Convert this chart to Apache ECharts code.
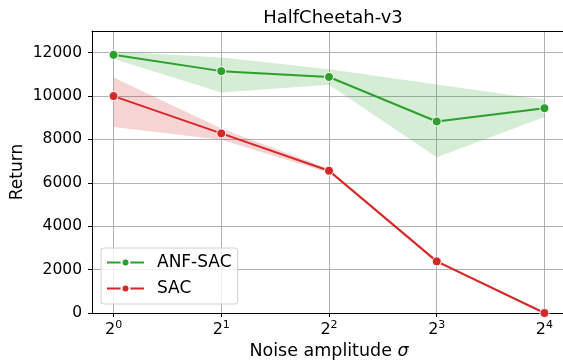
<!DOCTYPE html>
<html>
<head>
<meta charset="utf-8">
<script src="https://cdn.jsdelivr.net/npm/echarts@6/dist/echarts.min.js"></script>
<style>
  html, body { margin: 0; padding: 0; background: #fff; }
  #main { width: 563px; height: 362px; }
</style>
</head>
<body>
<div id="main"></div>
<script>
// x positions as log2 of the noise amplitude
var exps = [0, 1, 2, 3, 4];

var anfMean = [11900, 11150, 10880, 8830, 9440];
var anfLow = [11720, 10160, 10520, 7180, 9030];
var anfHigh = [12060, 11780, 11240, 10530, 9830];

var sacMean = [10000, 8280, 6560, 2380, 0];
var sacLow = [8580, 7990, 6460, 2320, -40];
var sacHigh = [10860, 8500, 6650, 2450, 40];

var yTicks = [0, 2000, 4000, 6000, 8000, 10000, 12000];

var green = '#2ca02c';
var red = '#d62728';

function pairs(ys) {
    var out = [];
    for (var i = 0; i < exps.length; i++) {
        out.push([exps[i], ys[i]]);
    }
    return out;
}

// band drawn as one polygon through the axis scales
function bandSeries(low, high, fill) {
    return {
        type: 'custom',
        silent: true,
        z: 1,
        data: [[0, 0]],
        renderItem: function (params, api) {
            var pts = [];
            for (var i = 0; i < exps.length; i++) {
                pts.push(api.coord([exps[i], high[i]]));
            }
            for (var j = exps.length - 1; j >= 0; j--) {
                pts.push(api.coord([exps[j], low[j]]));
            }
            return {
                type: 'polygon',
                shape: { points: pts },
                style: { fill: fill }
            };
        }
    };
}

var chart = echarts.init(document.getElementById('main'));
var font = 'DejaVu Sans';

var option = {
    animation: false,
    backgroundColor: '#fff',
    title: {
        text: 'HalfCheetah-v3',
        left: 328,
        top: 4,
        textAlign: 'center',
        textStyle: { fontFamily: font, fontSize: 18, fontWeight: 'normal', color: '#000' }
    },
    grid: { left: 92, top: 31, width: 474, height: 282, outerBoundsMode: 'none', containLabel: false },
    legend: {
        data: ['ANF-SAC', 'SAC'],
        orient: 'vertical',
        left: 101,
        top: 248,
        itemWidth: 37,
        itemHeight: 10,
        itemGap: 9,
        padding: [6, 6, 7, 5],
        borderColor: '#d0d0d0',
        borderWidth: 1,
        borderRadius: 3,
        backgroundColor: 'rgba(255,255,255,0.8)',
        textStyle: { fontFamily: font, fontSize: 17, lineHeight: 17, color: '#000', padding: [0, 0, 0, 8] }
    },
    xAxis: [{
        type: 'value',
        min: -0.2,
        max: 4.2,
        name: 'Noise amplitude {i|σ}',
        nameLocation: 'middle',
        nameGap: 28,
        nameTextStyle: {
            fontFamily: font, fontSize: 17.5, color: '#000',
            rich: { i: { fontFamily: font, fontSize: 17.5, fontStyle: 'italic', color: '#000' } }
        },
        axisLine: { onZero: false, lineStyle: { color: '#000', width: 1 } },
        axisTick: { show: true, length: 4, customValues: exps, lineStyle: { color: '#000' } },
        axisLabel: {
            margin: 7,
            customValues: exps,
            formatter: function (v) {
                return '{b|2}{s|' + Math.round(v) + '}';
            },
            rich: {
                b: { fontFamily: font, fontSize: 16, color: '#000' },
                s: { fontFamily: font, fontSize: 11, color: '#000', padding: [0, 0, 9, 0] }
            }
        },
        splitLine: { show: true, lineStyle: { color: '#b0b0b0', width: 1 } }
    }, {
        // top spine only
        type: 'value',
        position: 'top',
        min: -0.2,
        max: 4.2,
        axisLine: { show: true, onZero: false, lineStyle: { color: '#000', width: 1 } },
        axisTick: { show: false },
        axisLabel: { show: false },
        splitLine: { show: false }
    }],
    yAxis: {
        type: 'value',
        min: 0,
        max: 13000,
        name: 'Return',
        nameLocation: 'middle',
        nameGap: 66,
        nameMoveOverlap: false,
        nameTextStyle: { fontFamily: font, fontSize: 17, color: '#000' },
        axisLine: { show: true, onZero: false, lineStyle: { color: '#000', width: 1 } },
        axisTick: { show: true, length: 4, customValues: yTicks, lineStyle: { color: '#000' } },
        axisLabel: {
            margin: 10,
            customValues: yTicks,
            fontFamily: font, fontSize: 15.5, color: '#000',
            formatter: function (v) { return String(v); }
        },
        splitLine: { show: true, lineStyle: { color: '#b0b0b0', width: 1 } }
    },
    series: [
        bandSeries(anfLow, anfHigh, 'rgba(44,160,44,0.2)'),
        bandSeries(sacLow, sacHigh, 'rgba(214,39,40,0.2)'),
        {
            name: 'ANF-SAC',
            type: 'line',
            data: pairs(anfMean),
            color: green,
            symbol: 'circle',
            symbolSize: 9,
            lineStyle: { width: 2 },
            itemStyle: { color: green, borderColor: '#fff', borderWidth: 1 },
            z: 3
        },
        {
            name: 'SAC',
            type: 'line',
            data: pairs(sacMean),
            color: red,
            symbol: 'circle',
            symbolSize: 9,
            lineStyle: { width: 2 },
            itemStyle: { color: red, borderColor: '#fff', borderWidth: 1 },
            z: 3
        }
    ]
};

chart.setOption(option);
</script>
</body>
</html>
